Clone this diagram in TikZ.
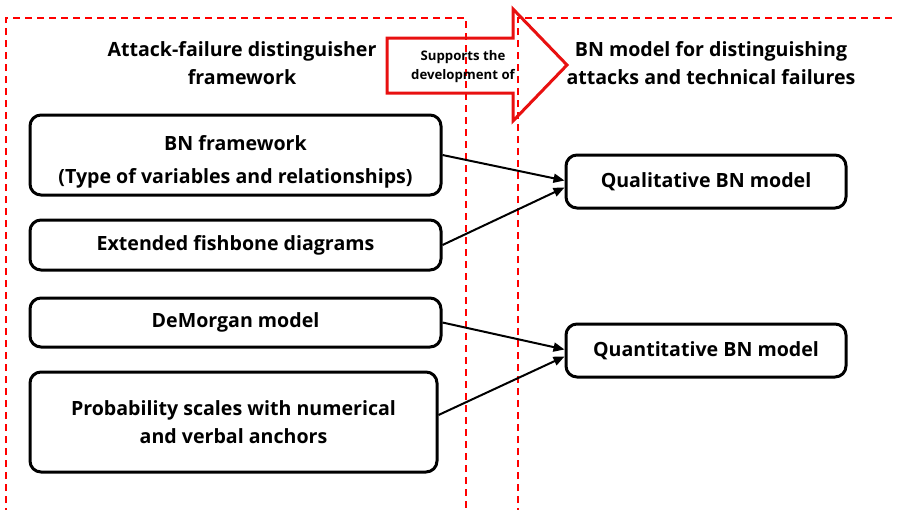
\documentclass[tikz,border=0pt]{standalone}
\usepackage{fontspec}
\setmainfont{Open Sans}
\usepackage{tikz}
\usetikzlibrary{arrows.meta, positioning, calc}
\definecolor{framered}{HTML}{FF0000}
\definecolor{arrowred}{HTML}{E81010}

\begin{document}
\begin{tikzpicture}[x=1pt, y=-1pt,
    box/.style={draw, line width=3pt, rounded corners=11pt, align=center,
      font=\fontsize{19.6}{28.5}\selectfont\bfseries, inner sep=0pt},
    title/.style={align=center, font=\fontsize{19.6}{27.5}\selectfont\bfseries},
    frame/.style={framered, dashed, line width=1.6pt, dash pattern=on 7pt off 5pt},
    link/.style={line width=2pt, -{Triangle[length=11pt, width=9pt]}}]
  \useasboundingbox (0,0) rectangle (897,509);

  % dashed frames
  \draw[frame] (6,515) -- (6,18) -- (466,18) -- (466,515);
  \draw[frame] (518,515) -- (518,18) -- (905,18);

  % big arrow
  \draw[arrowred, line width=3pt, line join=miter]
    (387,38) -- (513,38) -- (513,9) -- (567,65) -- (513,121) -- (513,93) -- (387,93) -- cycle;
  \node[align=center, font=\fontsize{13.2}{19}\selectfont\bfseries] (supp) at (463,67)
    {Supports the\\development of};

  % titles
  \node[title] (ltitle) at (242,63) {Attack-failure distinguisher\\framework};
  \node[title] (rtitle) at (711,63) {BN model for distinguishing\\attacks and technical failures};

  % left boxes
  \node[box, minimum width=411pt, minimum height=80pt] (bnf) at (235.5,155)
    {\rule{0pt}{29pt}BN framework\\[4.5pt](Type of variables and relationships)};
  \node[box, minimum width=411pt, minimum height=50pt] (fish) at (235.5,245)
    {Extended fishbone diagrams};
  \node[box, minimum width=411pt, minimum height=49pt] (dem) at (235.5,322.5)
    {DeMorgan model};
  \node[box, minimum width=407pt, minimum height=100pt] (prob) at (233.5,422)
    {Probability scales with numerical\\and verbal anchors};

  % right boxes
  \node[box, minimum width=280pt, minimum height=53pt] (qual) at (706,181.5)
    {Qualitative BN model};
  \node[box, minimum width=280pt, minimum height=53pt] (quant) at (706,350.5)
    {Quantitative BN model};

  % connectors
  \draw[link] (bnf.east) -- ([yshift=1pt]qual.west);
  \draw[link] (fish.east) -- ([yshift=-6pt]qual.west);
  \draw[link] (dem.east) -- ([yshift=1pt]quant.west);
  \draw[link] ([yshift=7pt]prob.east) -- ([yshift=-6pt]quant.west);
\end{tikzpicture}
\end{document}
